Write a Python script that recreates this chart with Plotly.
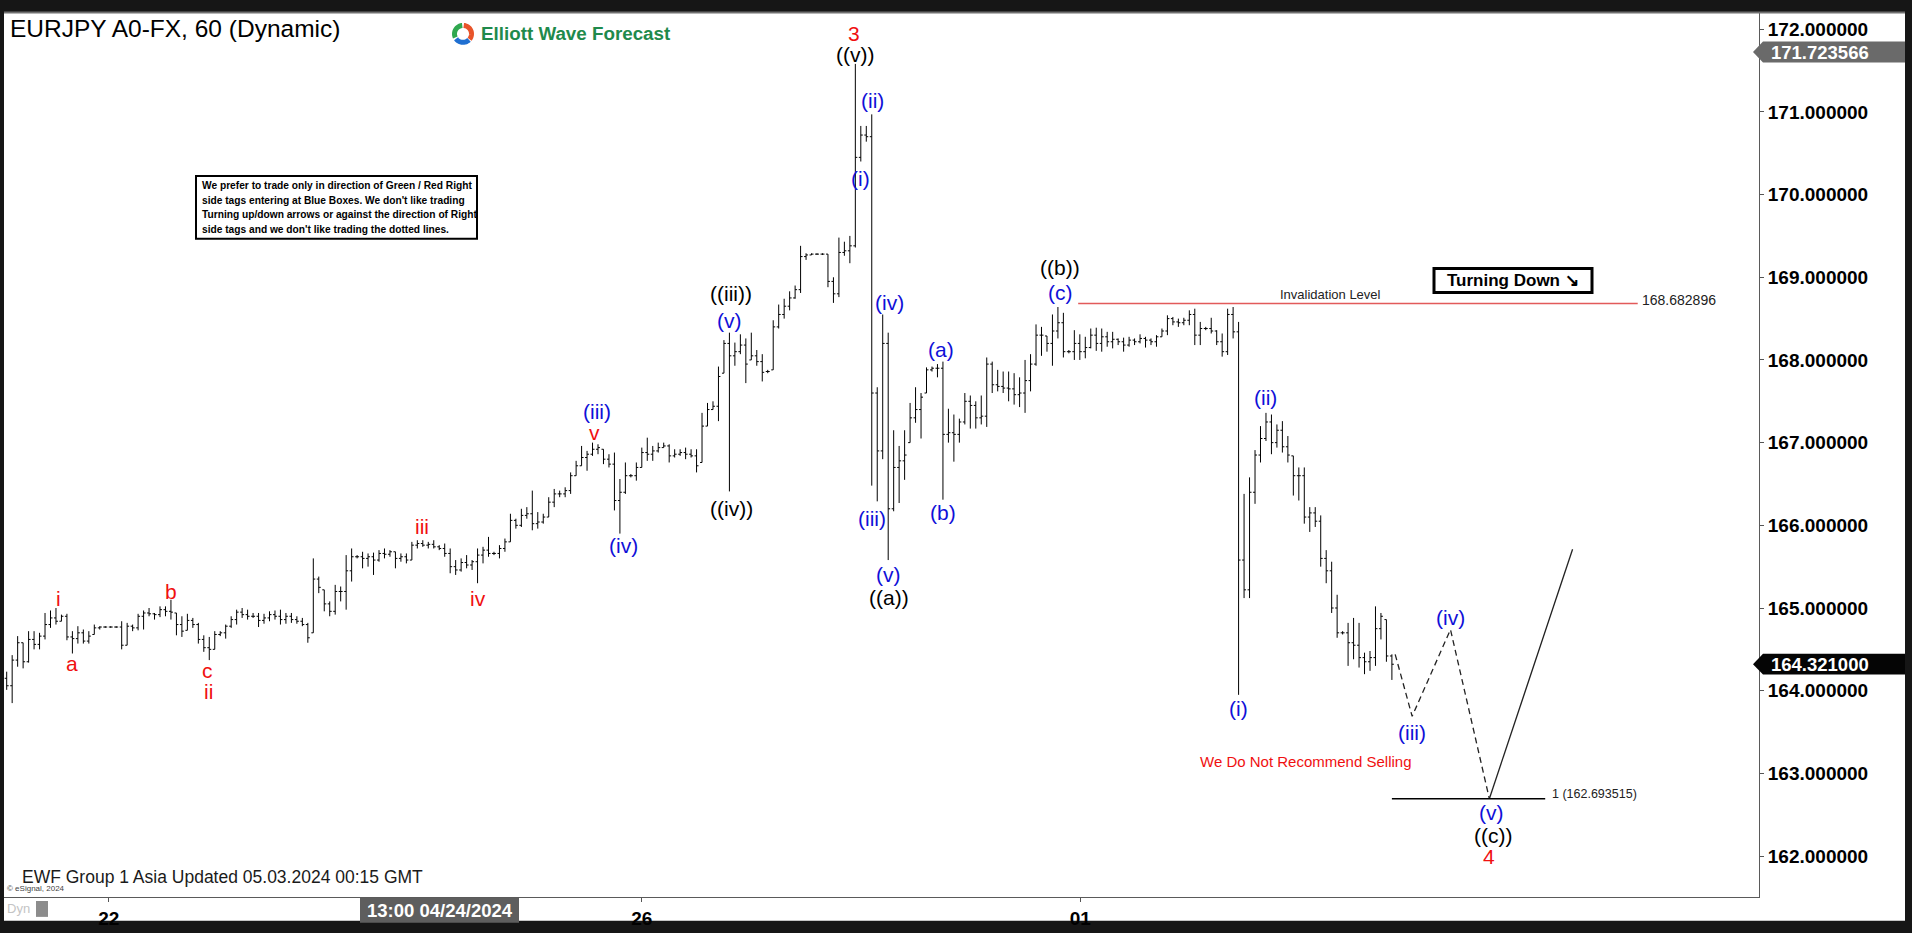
import math
import plotly.graph_objects as go

# ---------------- data ----------------
bar_open = [
    164.15, 164.06, 164.37, 164.58, 164.35, 164.62, 164.56, 164.66, 164.80, 164.88,
    164.84, 164.90, 164.65, 164.63, 164.70, 164.60, 164.68, 164.76, 164.77, 164.77,
    164.77, 164.77, 164.55, 164.78, 164.76, 164.90, 164.94, 164.93, 164.92, 164.98,
    164.96, 164.94, 164.80, 164.73, 164.85, 164.80, 164.62, 164.52, 164.50, 164.68,
    164.70, 164.78, 164.86, 164.95, 164.92, 164.90, 164.90, 164.85, 164.88, 164.92,
    164.90, 164.86, 164.90, 164.86, 164.84, 164.80, 164.70, 165.35, 165.22, 165.05,
    164.96, 165.20, 165.20, 165.45, 165.62, 165.62, 165.60, 165.62, 165.58, 165.66,
    165.65, 165.68, 165.60, 165.62, 165.58, 165.76, 165.78, 165.76, 165.77, 165.74,
    165.72, 165.66, 165.50, 165.46, 165.55, 165.52, 165.56, 165.64, 165.70, 165.66,
    165.66, 165.72, 165.80, 166.06, 166.00, 166.12, 166.14, 166.02, 166.04, 166.10,
    166.28, 166.38, 166.38, 166.42, 166.60, 166.72, 166.82, 166.86, 166.92, 166.92,
    166.80, 166.74, 166.30, 166.40, 166.60, 166.60, 166.70, 166.88, 166.86, 166.90,
    166.94, 166.96, 166.84, 166.86, 166.88, 166.86, 166.84, 166.76, 167.20, 167.40,
    167.44, 167.84, 168.20, 168.05, 168.10, 168.18, 168.00, 168.05, 167.98, 167.86,
    167.88, 168.40, 168.55, 168.65, 168.75, 168.85, 169.25, 169.27, 169.28, 169.28,
    169.28, 168.95, 168.80, 169.30, 169.32, 169.38, 170.45, 170.72, 170.70, 167.60,
    166.90, 168.20, 166.20, 166.70, 166.78, 167.00, 167.30, 167.40, 167.60, 167.88,
    167.90, 167.90, 167.10, 167.12, 167.10, 167.25, 167.50, 167.45, 167.30, 167.32,
    167.95, 167.70, 167.68, 167.66, 167.65, 167.58, 167.60, 167.75, 167.95, 168.30,
    168.29, 168.20, 168.35, 168.45, 168.10, 168.10, 168.20, 168.10, 168.15, 168.30,
    168.20, 168.28, 168.22, 168.25, 168.22, 168.18, 168.24, 168.22, 168.26, 168.24,
    168.22, 168.28, 168.35, 168.50, 168.46, 168.45, 168.48, 168.55, 168.30, 168.38,
    168.38, 168.35, 168.22, 168.10, 168.55, 168.34, 165.58, 165.22, 166.40, 166.85,
    167.05, 167.25, 167.00, 167.15, 166.95, 166.84, 166.60, 166.60, 166.10, 166.15,
    166.05, 165.60, 165.45, 165.00, 164.70, 164.70, 164.58, 164.55, 164.40, 164.35,
    164.40, 164.75, 164.86, 164.42,
]
bar_high = [
    164.23, 164.43, 164.66, 164.58, 164.72, 164.72, 164.70, 164.94, 164.97, 165.00,
    164.92, 164.93, 164.72, 164.78, 164.74, 164.72, 164.80, 164.78, 164.78, 164.78,
    164.78, 164.84, 164.82, 164.80, 164.93, 164.97, 165.00, 164.94, 165.02, 165.02,
    165.10, 164.94, 164.90, 164.93, 164.88, 164.82, 164.67, 164.65, 164.72, 164.72,
    164.80, 164.90, 164.98, 165.00, 164.98, 164.94, 164.94, 164.93, 164.96, 164.97,
    164.98, 164.94, 164.94, 164.90, 164.88, 164.82, 165.60, 165.38, 165.22, 165.08,
    165.28, 165.26, 165.64, 165.72, 165.64, 165.68, 165.66, 165.67, 165.70, 165.72,
    165.70, 165.68, 165.66, 165.66, 165.80, 165.82, 165.82, 165.80, 165.82, 165.76,
    165.78, 165.72, 165.58, 165.60, 165.64, 165.58, 165.72, 165.74, 165.86, 165.68,
    165.76, 165.84, 166.14, 166.08, 166.20, 166.22, 166.42, 166.16, 166.14, 166.34,
    166.44, 166.42, 166.46, 166.64, 166.78, 166.96, 166.90, 167.00, 166.98, 166.92,
    166.86, 166.88, 166.56, 166.76, 166.62, 166.76, 166.94, 167.06, 166.96, 167.00,
    167.00, 166.98, 166.92, 166.92, 166.94, 166.92, 166.92, 167.36, 167.48, 167.50,
    167.92, 168.24, 168.33, 168.21, 168.31, 168.26, 168.33, 168.12, 168.07, 167.88,
    168.48, 168.67, 168.74, 168.83, 168.90, 169.38, 169.29, 169.29, 169.29, 169.29,
    169.28, 169.00, 169.48, 169.43, 169.50, 171.58, 170.83, 170.83, 170.97, 167.67,
    168.55, 168.33, 167.15, 166.96, 167.15, 167.48, 167.67, 167.60, 167.91, 167.92,
    167.95, 167.98, 167.41, 167.34, 167.29, 167.60, 167.57, 167.50, 167.57, 168.03,
    167.98, 167.88, 167.86, 167.86, 167.84, 167.79, 168.00, 168.07, 168.43, 168.40,
    168.29, 168.55, 168.64, 168.57, 168.12, 168.36, 168.31, 168.28, 168.38, 168.39,
    168.38, 168.34, 168.34, 168.26, 168.27, 168.28, 168.26, 168.31, 168.28, 168.26,
    168.30, 168.38, 168.54, 168.52, 168.50, 168.51, 168.60, 168.62, 168.46, 168.40,
    168.51, 168.36, 168.32, 168.62, 168.64, 168.46, 166.38, 166.58, 166.91, 167.20,
    167.36, 167.34, 167.22, 167.26, 167.08, 166.84, 166.70, 166.70, 166.22, 166.22,
    166.12, 165.70, 165.56, 165.16, 164.72, 164.82, 164.88, 164.82, 164.46, 164.48,
    165.02, 164.94, 164.86, 164.44,
]
bar_low = [
    164.01, 163.85, 164.29, 164.27, 164.34, 164.50, 164.50, 164.62, 164.76, 164.80,
    164.84, 164.61, 164.45, 164.57, 164.57, 164.57, 164.68, 164.74, 164.76, 164.76,
    164.76, 164.50, 164.55, 164.72, 164.73, 164.74, 164.90, 164.86, 164.89, 164.90,
    164.86, 164.67, 164.65, 164.73, 164.76, 164.57, 164.47, 164.37, 164.50, 164.66,
    164.63, 164.76, 164.80, 164.88, 164.86, 164.88, 164.77, 164.81, 164.84, 164.86,
    164.80, 164.81, 164.82, 164.81, 164.78, 164.58, 164.70, 165.18, 164.96, 164.90,
    164.92, 165.08, 164.98, 165.32, 165.60, 165.48, 165.50, 165.40, 165.56, 165.60,
    165.62, 165.48, 165.56, 165.54, 165.58, 165.72, 165.74, 165.72, 165.72, 165.70,
    165.62, 165.42, 165.40, 165.44, 165.48, 165.46, 165.30, 165.54, 165.62, 165.64,
    165.60, 165.68, 165.80, 165.96, 165.98, 166.08, 165.94, 165.96, 166.02, 166.10,
    166.22, 166.34, 166.34, 166.38, 166.60, 166.72, 166.66, 166.84, 166.86, 166.74,
    166.70, 166.18, 165.90, 166.38, 166.58, 166.54, 166.70, 166.78, 166.78, 166.88,
    166.94, 166.76, 166.82, 166.84, 166.80, 166.82, 166.64, 166.76, 167.20, 167.40,
    167.26, 167.84, 166.41, 167.93, 168.07, 167.72, 168.00, 167.93, 167.74, 167.84,
    167.88, 168.38, 168.50, 168.60, 168.74, 168.81, 169.21, 169.27, 169.27, 169.27,
    168.88, 168.69, 168.76, 169.26, 169.17, 169.36, 170.40, 170.64, 166.48, 166.29,
    166.80, 165.58, 166.17, 166.27, 166.55, 167.00, 167.24, 167.05, 167.60, 167.86,
    167.79, 166.31, 167.00, 166.77, 167.00, 167.22, 167.17, 167.17, 167.22, 167.19,
    167.60, 167.62, 167.60, 167.50, 167.46, 167.43, 167.36, 167.62, 167.93, 168.05,
    168.10, 167.93, 168.26, 168.03, 168.08, 168.00, 168.00, 168.02, 168.14, 168.11,
    168.10, 168.16, 168.14, 168.18, 168.10, 168.16, 168.18, 168.20, 168.15, 168.18,
    168.16, 168.28, 168.30, 168.42, 168.40, 168.42, 168.42, 168.18, 168.18, 168.36,
    168.32, 168.18, 168.04, 168.06, 168.26, 163.95, 165.12, 165.12, 166.26, 166.76,
    167.02, 166.86, 166.94, 166.88, 166.76, 166.36, 166.30, 166.02, 165.92, 165.98,
    165.50, 165.30, 164.94, 164.64, 164.68, 164.30, 164.38, 164.28, 164.20, 164.24,
    164.30, 164.62, 164.35, 164.13,
]
bar_close = [
    164.06, 164.37, 164.58, 164.35, 164.62, 164.56, 164.66, 164.80, 164.88, 164.84,
    164.90, 164.65, 164.63, 164.70, 164.60, 164.66, 164.76, 164.77, 164.77, 164.77,
    164.77, 164.55, 164.78, 164.76, 164.90, 164.94, 164.93, 164.92, 164.98, 164.96,
    164.95, 164.80, 164.72, 164.85, 164.80, 164.62, 164.52, 164.50, 164.68, 164.70,
    164.78, 164.86, 164.95, 164.92, 164.90, 164.90, 164.85, 164.88, 164.92, 164.90,
    164.86, 164.90, 164.86, 164.84, 164.80, 164.64, 165.35, 165.25, 165.05, 164.96,
    165.20, 165.20, 165.45, 165.62, 165.62, 165.60, 165.62, 165.58, 165.66, 165.65,
    165.68, 165.60, 165.62, 165.58, 165.76, 165.78, 165.76, 165.77, 165.74, 165.72,
    165.66, 165.50, 165.46, 165.55, 165.52, 165.56, 165.64, 165.70, 165.66, 165.66,
    165.72, 165.80, 166.06, 166.00, 166.12, 166.14, 166.02, 166.04, 166.10, 166.28,
    166.38, 166.38, 166.42, 166.60, 166.72, 166.82, 166.86, 166.92, 166.94, 166.80,
    166.74, 166.30, 166.40, 166.60, 166.60, 166.70, 166.88, 166.86, 166.90, 166.94,
    166.96, 166.84, 166.86, 166.88, 166.86, 166.84, 166.72, 167.20, 167.40, 167.44,
    167.80, 168.20, 168.05, 168.10, 168.18, 167.95, 168.05, 167.98, 167.85, 167.86,
    168.40, 168.55, 168.65, 168.75, 168.85, 169.25, 169.27, 169.28, 169.28, 169.28,
    168.95, 168.80, 169.30, 169.32, 169.38, 170.45, 170.72, 170.70, 167.60, 166.90,
    168.20, 166.20, 166.70, 166.78, 166.85, 167.30, 167.40, 167.55, 167.88, 167.90,
    167.90, 167.10, 167.12, 167.10, 167.25, 167.50, 167.45, 167.30, 167.32, 167.95,
    167.70, 167.68, 167.66, 167.65, 167.58, 167.60, 167.75, 167.95, 168.30, 168.30,
    168.20, 168.35, 168.45, 168.10, 168.10, 168.20, 168.10, 168.15, 168.30, 168.20,
    168.28, 168.22, 168.25, 168.22, 168.18, 168.24, 168.22, 168.26, 168.24, 168.22,
    168.28, 168.35, 168.50, 168.46, 168.45, 168.48, 168.55, 168.30, 168.38, 168.38,
    168.35, 168.22, 168.10, 168.55, 168.34, 165.58, 165.22, 166.40, 166.85, 167.05,
    167.25, 167.00, 167.15, 166.95, 166.85, 166.60, 166.60, 166.10, 166.15, 166.05,
    165.60, 165.45, 165.00, 164.70, 164.70, 164.58, 164.55, 164.40, 164.35, 164.40,
    164.75, 164.90, 164.42, 164.32,
]
bar_index = list(range(len(bar_close)))

x_tick_pos = [18.65, 116.0, 196.1]
x_tick_text = ["22", "26", "01"]
crosshair_pos = 79.07
crosshair_text = "13:00 04/24/2024"
y_tick_vals = [162, 163, 164, 165, 166, 167, 168, 169, 170, 171, 172]

wave_text = ["i", "a", "b", "c", "ii", "iii", "iv", "v", "(iii)", "(iv)",
             "((iii))", "(v)", "((iv))", "3", "((v))", "(i)", "(ii)", "(iii)", "(iv)", "(v)",
             "((a))", "(a)", "(b)", "((b))", "(c)", "(i)", "(ii)", "(iii)", "(iv)", "(v)",
             "((c))", "4"]
wave_x = [9.4, 11.9, 30.0, 36.6, 36.8, 75.8, 86.0, 107.4, 107.8, 112.6,
          132.2, 132.1, 132.4, 154.8, 155.0, 156.0, 158.2, 158.0, 161.2, 161.0,
          161.2, 170.6, 171.1, 192.4, 192.4, 225.0, 230.0, 256.7, 263.7, 271.2,
          271.5, 270.8]
wave_y = [165.12, 164.33, 165.20, 164.25, 163.99, 165.98, 165.12, 167.12, 167.38, 165.76,
          168.80, 168.48, 166.20, 171.95, 171.70, 170.19, 171.14, 166.08, 168.69, 165.41,
          165.13, 168.13, 166.15, 169.12, 168.82, 163.79, 167.54, 163.49, 164.88, 162.53,
          162.25, 161.99]

proj_x = [253.6, 256.7, 263.7, 270.8]
proj_y = [164.44, 163.69, 164.74, 162.6935]
rally_x = [270.8, 286.0]
rally_y = [162.6935, 165.71]
target_x = [253.0, 281.0]
target_level = 162.693515
invalid_x = [195.7, 297.9]
invalid_level = 168.682896
last_price = 164.321000
high_marker = 171.723566

note_lines = [
    "We prefer to trade only in direction of Green / Red Right",
    "side tags entering at Blue Boxes. We don't like trading",
    "Turning up/down arrows or against the direction of Right",
    "side tags and we don't like trading the dotted lines.",
]

# ---------------- geometry helpers ----------------
W, H = 1912, 933
PL, PR, PT, PB = 4, 1759, 13, 902
XR = [-0.493, 320.05]
YR = [161.505, 172.196]


def px(x):
    return (x - PL) / (PR - PL)


def py(y):
    return (PB - y) / (PB - PT)


def price_to_pix(p):
    return PT + (YR[1] - p) / (YR[1] - YR[0]) * (PB - PT)


FONT = "Liberation Sans, Arial, sans-serif"
RED = "#f01010"
BLUE = "#1010d8"

fig = go.Figure()

fig.add_trace(go.Ohlc(
    x=bar_index, open=bar_open, high=bar_high, low=bar_low, close=bar_close,
    increasing=dict(line=dict(color="black", width=1)),
    decreasing=dict(line=dict(color="black", width=1)),
    tickwidth=0.36, hoverinfo="skip", showlegend=False,
))

# projection lines
fig.add_trace(go.Scatter(x=proj_x, y=proj_y, mode="lines",
                         line=dict(color="#222", width=1.3, dash="6px,4px"),
                         hoverinfo="skip", showlegend=False))
fig.add_trace(go.Scatter(x=rally_x, y=rally_y, mode="lines",
                         line=dict(color="#222", width=1.3),
                         hoverinfo="skip", showlegend=False))
fig.add_trace(go.Scatter(x=target_x, y=[target_level, target_level], mode="lines",
                         line=dict(color="black", width=1.6),
                         hoverinfo="skip", showlegend=False))
fig.add_trace(go.Scatter(x=invalid_x, y=[invalid_level, invalid_level], mode="lines",
                         line=dict(color="#e25a5a", width=1.6),
                         hoverinfo="skip", showlegend=False))

shapes = []
ann = []

# frame: white interior on dark paper
shapes.append(dict(type="rect", xref="paper", yref="paper", layer="below",
                   x0=px(4), x1=px(1905), y0=py(13), y1=py(926),
                   fillcolor="white", line=dict(width=0)))
shapes.append(dict(type="line", xref="paper", yref="paper", layer="above",
                   x0=px(4), x1=px(1905), y0=py(12.5), y1=py(12.5),
                   line=dict(color="#707070", width=2)))

# wave labels
for t, xv, yv in zip(wave_text, wave_x, wave_y):
    if t.startswith("(("):
        col = "black"
    elif t.startswith("("):
        col = BLUE
    else:
        col = RED
    ann.append(dict(x=xv, y=yv, xref="x", yref="y", text=t, showarrow=False,
                    xanchor="center", yanchor="middle",
                    font=dict(family=FONT, size=21, color=col)))

# red text
ann.append(dict(x=237.2, y=163.14, xref="x", yref="y", text="We Do Not Recommend Selling",
                showarrow=False, xanchor="center", yanchor="middle",
                font=dict(family=FONT, size=15, color=RED)))

# invalidation text
ann.append(dict(x=241.8, y=168.79, xref="x", yref="y", text="Invalidation Level",
                showarrow=False, xanchor="center", yanchor="middle",
                font=dict(family=FONT, size=13, color="#222")))
ann.append(dict(x=298.3, y=168.73, xref="x", yref="y", text=f"{invalid_level:.6f}",
                showarrow=False, xanchor="left", yanchor="middle",
                font=dict(family=FONT, size=14, color="#222")))
ann.append(dict(x=281.9, y=162.75, xref="x", yref="y", text=f"1 ({target_level:.6f})",
                showarrow=False, xanchor="left", yanchor="middle",
                font=dict(family=FONT, size=12.5, color="#222")))

# Turning Down box
shapes.append(dict(type="rect", xref="paper", yref="paper", layer="above",
                   x0=px(1434), x1=px(1592), y0=py(270), y1=py(294),
                   fillcolor="white", line=dict(color="black", width=3)))
ann.append(dict(x=px(1513), y=py(282), xref="paper", yref="paper",
                text="<b>Turning Down \u2198</b>", showarrow=False,
                xanchor="center", yanchor="middle",
                font=dict(family=FONT, size=17, color="black")))

# note box
shapes.append(dict(type="rect", xref="paper", yref="paper", layer="above",
                   x0=px(196), x1=px(477), y0=py(177), y1=py(240),
                   fillcolor="white", line=dict(color="black", width=2)))
for k, line in enumerate(note_lines):
    ann.append(dict(x=px(200), y=py(186.5 + 14.8 * k), xref="paper", yref="paper",
                    text=f"<b>{line}</b>", showarrow=False, xanchor="left", yanchor="middle",
                    font=dict(family=FONT, size=10.2, color="black")))

# title & logo
ann.append(dict(x=px(8), y=py(29), xref="paper", yref="paper",
                text="EURJPY A0-FX, 60 (Dynamic)", showarrow=False,
                xanchor="left", yanchor="middle",
                font=dict(family=FONT, size=24.5, color="black")))
ann.append(dict(x=px(479), y=py(34), xref="paper", yref="paper",
                text="<b>Elliott Wave Forecast</b>", showarrow=False,
                xanchor="left", yanchor="middle",
                font=dict(family=FONT, size=18.8, color="#1f8a4c")))


def arc(cx, cy, r, a0, a1, n=24):
    pts = []
    for k in range(n + 1):
        a = math.radians(a0 + (a1 - a0) * k / n)
        pts.append((px(cx + r * math.cos(a)), py(cy - r * math.sin(a))))
    return "M " + " L ".join(f"{a:.6f},{b:.6f}" for a, b in pts)


for a0, a1, col in [(95, 205, "#2fa84f"), (-40, 85, "#e8542a"), (215, 315, "#1f6fd1")]:
    shapes.append(dict(type="path", xref="paper", yref="paper", layer="above",
                       path=arc(463, 34, 8.5, a0, a1),
                       line=dict(color=col, width=5)))

# footer texts
ann.append(dict(x=px(20), y=py(882), xref="paper", yref="paper",
                text="EWF Group 1 Asia Updated 05.03.2024 00:15 GMT", showarrow=False,
                xanchor="left", yanchor="middle",
                font=dict(family=FONT, size=17.5, color="#1a1a1a")))
ann.append(dict(x=px(5), y=py(893), xref="paper", yref="paper",
                text="\u00a9 eSignal, 2024", showarrow=False,
                xanchor="left", yanchor="middle",
                font=dict(family=FONT, size=8, color="#444")))
ann.append(dict(x=px(5), y=py(914), xref="paper", yref="paper",
                text="Dyn", showarrow=False, xanchor="left", yanchor="middle",
                font=dict(family=FONT, size=13, color="#c4c4c4")))
shapes.append(dict(type="rect", xref="paper", yref="paper", layer="above",
                   x0=px(36), x1=px(48), y0=py(906), y1=py(922),
                   fillcolor="#8c8c8c", line=dict(width=0)))

# crosshair date label
shapes.append(dict(type="rect", xref="paper", yref="paper", layer="above",
                   x0=px(360), x1=px(519), y0=py(903), y1=py(928),
                   fillcolor="#5e5e5e", line=dict(width=0)))
ann.append(dict(x=crosshair_pos, y=py(916), xref="x", yref="paper",
                text=f"<b>{crosshair_text}</b>", showarrow=False,
                xanchor="center", yanchor="middle",
                font=dict(family=FONT, size=18.5, color="white")))

# right-axis price flags


def flag(price, fill):
    yc = price_to_pix(price)
    h = 10.5
    path = (f"M {px(1753):.6f},{py(yc):.6f} L {px(1763):.6f},{py(yc - h):.6f} "
            f"L {px(1905):.6f},{py(yc - h):.6f} L {px(1905):.6f},{py(yc + h):.6f} "
            f"L {px(1763):.6f},{py(yc + h):.6f} Z")
    shapes.append(dict(type="path", xref="paper", yref="paper", layer="above",
                       path=path, fillcolor=fill, line=dict(width=0)))
    ann.append(dict(x=px(1769), y=price, xref="paper", yref="y",
                    text=f"<b>{price:.6f}</b>", showarrow=False,
                    xanchor="left", yanchor="middle",
                    font=dict(family=FONT, size=18.5, color="white")))


flag(high_marker, "#6a6a6a")
flag(last_price, "#050505")

fig.update_layout(
    width=W, height=H, autosize=False,
    margin=dict(l=PL, r=W - PR, t=PT, b=H - PB, pad=0),
    paper_bgcolor="#161616", plot_bgcolor="white",
    showlegend=False, shapes=shapes, annotations=ann,
    xaxis=dict(range=XR, tickmode="array", tickvals=x_tick_pos, ticktext=x_tick_text,
               tickfont=dict(family=FONT, size=19, color="black", weight="bold"),
               ticks="outside", ticklen=4, tickcolor="#555",
               showline=True, linecolor="#5a5a5a", linewidth=1,
               showgrid=False, zeroline=False, fixedrange=True,
               rangeslider=dict(visible=False)),
    yaxis=dict(range=YR, side="right", tickmode="array", tickvals=y_tick_vals,
               ticktext=[f"{v:.6f}" for v in y_tick_vals],
               tickfont=dict(family=FONT, size=19, color="black", weight="bold"),
               ticks="outside", ticklen=4, tickcolor="#555",
               showline=True, linecolor="#5a5a5a", linewidth=1,
               showgrid=False, zeroline=False, fixedrange=True),
)

fig.write_html("out.html", config={"displayModeBar": False},
               post_script="document.body.style.margin='0px';"
                           "document.body.style.overflow='hidden';")
